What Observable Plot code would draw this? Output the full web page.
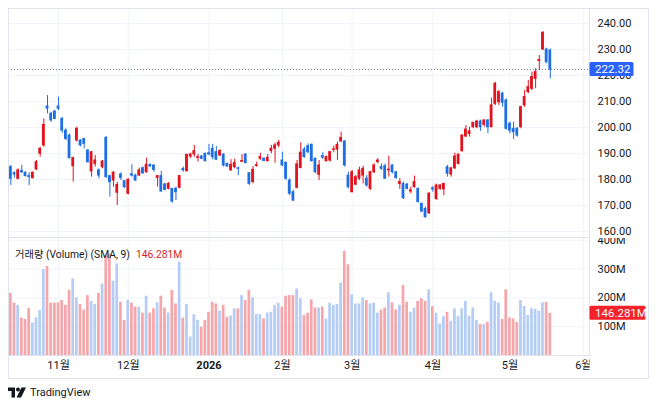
<!DOCTYPE html>
<html>
<head>
<meta charset="utf-8">
<script src="https://cdn.jsdelivr.net/npm/d3@7"></script>
<script src="https://cdn.jsdelivr.net/npm/@observablehq/plot@0.6"></script>
<style>
  html, body { margin: 0; padding: 0; background: #ffffff; }
  #wrap { position: relative; width: 658px; height: 408px; overflow: hidden; background: #fff;
          font-family: Roboto, "Noto Sans CJK KR", sans-serif; color: #131722; }
  #frame { position: absolute; left: 8px; top: 8px; width: 641px; height: 371px;
           border: 1px solid #e0e3eb; box-sizing: border-box; pointer-events: none; }
  #pricePane { position: absolute; left: 0; top: 0; }
  #volPane { position: absolute; left: 0; top: 238px; }
  #volLegend { position: absolute; left: 15px; top: 246px; font-size: 10.3px; white-space: nowrap; }
  #volLegend .val { color: #d8232b; margin-left: 6px; }
  #footer { position: absolute; left: 8px; top: 386px; display: flex; align-items: center; font-size: 11px; color: #131722; }
  #footer svg { margin-right: 4px; }
</style>
</head>
<body>
<div id="wrap">
  <div id="pricePane"></div>
  <div id="volPane"></div>
  <div id="volLegend">거래량 (Volume) (SMA, 9)<span class="val">146.281M</span></div>
  <div id="footer">
    <svg width="18" height="11" viewBox="0 0 36 22"><path d="M0 1h14v20H7V8H0z" fill="#131722"/><circle cx="20" cy="5" r="4" fill="#131722"/><path d="M27 1h9L26 21h-9z" fill="#131722"/></svg>
    <span>TradingView</span>
  </div>
  <div id="frame"></div>
</div>
<script>
// Daily sessions from 2025-10-15 to 2026-05-15 (session index = array position)
const open = [184.75,182.4,180.25,183.3,182.6,181.3,180.5,183.85,189.9,193.1,208.1,205.3,206.15,208.1,203.3,198.8,196.9,185.1,195.0,195.0,195.6,191.15,183.1,186.0,183.5,184.75,196.0,181.3,179.6,174.9,181.9,179.35,174.5,182.0,181.5,181.5,184.3,182.8,185.6,185.4,180.6,181.3,178.1,176.4,176.4,176.4,176.8,184.1,183.2,188.85,189.6,188.3,188.85,189.9,190.1,191.8,190.5,189.2,189.6,186.0,183.5,184.75,184.3,186.8,189.6,182.4,179.0,185.2,188.0,188.0,187.05,190.9,191.8,193.1,187.3,186.4,179.6,175.1,176.8,184.4,191.5,192.8,193.3,188.0,181.8,189.0,187.05,187.3,191.4,191.5,194.6,194.6,181.5,175.1,178.0,180.3,181.5,180.3,176.4,182.8,186.7,184.75,185.1,183.5,185.4,182.8,178.3,178.3,178.0,175.4,177.05,176.4,170.6,168.7,167.0,176.6,172.5,176.4,176.2,184.7,181.9,184.3,186.0,190.9,196.5,197.5,200.1,200.1,202.3,201.0,202.7,200.1,209.1,209.7,213.0,210.4,201.4,199.5,199.5,200.1,208.5,213.6,214.9,218.7,225.6,230.0,230.0,229.6];
const high = [185.4,183.0,184.1,185.4,183.0,182.6,182.9,187.3,192.4,203.3,212.3,205.9,206.5,211.7,203.9,199.5,197.5,188.6,200.2,195.3,195.8,191.5,190.8,189.2,184.1,187.3,196.5,181.5,183.1,178.9,182.6,179.6,180.3,185.7,182.0,184.4,184.8,188.2,186.0,185.5,181.5,183.1,178.5,178.8,176.5,177.05,181.5,184.75,189.6,190.1,193.1,189.6,189.2,190.1,193.5,193.5,192.7,191.5,189.9,186.3,187.6,187.8,184.75,189.6,189.9,182.7,185.0,186.7,190.1,188.2,189.6,193.1,194.0,195.0,190.5,186.7,180.3,175.8,187.3,194.1,192.4,193.7,193.7,188.2,187.3,190.3,189.0,190.8,192.8,194.4,198.2,195.0,182.8,183.5,181.5,184.75,185.1,181.5,183.1,186.0,188.0,186.0,186.0,189.0,185.6,183.0,180.3,179.0,178.5,177.05,181.3,176.7,171.0,169.4,175.0,177.3,178.2,178.0,178.5,185.4,184.75,190.1,189.9,197.2,200.8,200.1,202.0,202.8,202.8,203.0,203.0,211.3,217.4,214.2,213.6,211.0,202.1,202.1,200.0,208.2,214.2,218.1,221.3,222.6,227.7,236.9,230.5,230.2];
const low = [177.7,180.5,179.9,182.2,181.0,177.7,180.2,183.5,188.6,192.4,205.3,202.0,203.0,206.5,197.7,195.0,187.9,179.0,194.4,192.6,191.8,186.3,180.9,184.75,180.25,184.1,180.5,173.2,177.05,170.0,179.6,176.5,174.1,180.9,179.2,181.3,181.9,182.4,184.75,182.8,177.05,175.1,175.6,176.0,170.9,171.9,176.4,182.8,182.8,188.0,188.6,186.7,187.6,186.7,189.2,187.6,187.3,188.9,184.75,184.75,183.2,184.1,181.5,186.7,186.0,177.7,178.3,184.75,187.3,186.9,186.7,189.9,186.3,192.2,185.0,179.6,173.8,171.5,176.4,184.1,188.2,189.9,186.7,182.2,179.6,187.7,186.7,186.7,190.3,187.3,194.4,184.75,176.4,174.9,177.7,179.6,178.3,177.05,175.8,182.2,186.0,183.5,180.0,180.9,182.2,180.2,176.2,172.3,176.0,174.5,176.7,171.0,167.2,165.1,166.5,175.1,172.0,175.8,173.8,180.9,180.9,183.8,185.6,190.5,196.3,196.3,199.5,199.5,198.5,200.1,197.6,199.9,208.4,208.5,207.8,199.0,197.6,195.4,196.3,199.5,207.8,213.0,214.2,214.9,221.9,229.6,224.5,218.7];
const close = [180.25,181.9,183.5,182.8,181.3,180.9,182.6,186.65,191.8,201.0,207.2,202.7,203.3,207.2,198.8,195.6,188.2,188.2,199.5,193.1,193.7,186.65,190.5,187.3,181.5,186.9,180.9,179.0,182.6,177.9,180.6,177.05,179.9,181.5,179.6,183.5,182.4,185.65,185.0,183.7,181.3,175.4,176.0,178.3,171.5,175.1,181.3,183.5,189.5,189.6,190.9,188.6,187.95,187.05,189.6,188.6,187.6,190.9,185.4,185.0,185.65,186.3,184.1,187.1,186.3,178.3,183.7,185.5,188.6,187.1,188.3,191.8,193.1,194.1,185.4,180.3,174.5,171.9,185.8,190.3,188.6,190.5,187.05,182.8,185.4,188.4,188.6,190.5,191.6,193.3,196.0,185.4,177.05,182.8,180.9,183.5,184.1,177.7,182.8,185.4,187.3,184.1,180.3,183.8,182.8,180.5,179.0,172.8,176.4,175.8,179.0,171.3,167.7,165.5,174.5,176.2,177.7,177.7,178.3,182.2,184.3,188.85,189.5,196.9,199.2,198.5,201.8,202.3,200.1,202.7,200.1,208.5,216.8,213.6,209.5,199.5,198.8,198.2,196.9,207.8,211.7,215.5,219.4,221.3,226.0,236.4,225.1,222.32];
// Volume in millions of shares
const volume = [216,182,174,130,125,164,113,131,156,298,309,182,182,182,191,174,226,266,200,177,158,208,188,177,216,248,347,353,258,318,185,122,191,182,168,168,147,206,147,162,183,206,165,147,226,179,324,130,177,64,141,122,98,122,150,185,179,154,174,133,137,162,162,208,191,226,200,142,142,127,147,150,174,182,168,206,208,208,231,197,139,147,193,165,165,168,127,182,174,177,252,362,315,211,179,179,200,191,179,182,147,158,165,218,183,158,174,243,185,150,165,188,197,188,228,170,147,110,135,150,119,162,135,162,188,137,165,122,108,108,115,218,188,182,125,228,130,127,115,191,170,139,162,160,153,183,184,146.281];

// Time axis: session index of first trading day of each month, and its label
const monthTickIndex = [13, 32, 54, 74, 93, 115, 136, 156];
const monthTickLabel = ["11월", "12월", "2026", "2월", "3월", "4월", "5월", "6월"];
const yearTickIndex = [54];
const priceTicks = [160, 170, 180, 190, 200, 210, 220, 230, 240];
const volumeTicks = [100, 200, 300, 400];

const UP = "#e3131d", DOWN = "#1f6fe3";
const VOL_UP = "#b5cdf4", VOL_DOWN = "#f5a6aa";
const GRID = "#f0f3fa", LINE = "#e0e3eb";

const candles = close.map((c, j) => ({j, o: open[j], h: high[j], l: low[j], c, v: volume[j], up: c >= open[j]}));
const lastClose = close[close.length - 1];
const lastVolume = volume[volume.length - 1];
const labelOf = new Map(monthTickIndex.map((d, i) => [d, monthTickLabel[i]]));

const W = 648, ML = 8, MR = 59;
const xDomain = [-0.63, 157.68];
const font = 'Roboto, "Noto Sans CJK KR", sans-serif';

const price = Plot.plot({
  width: W, height: 238,
  marginLeft: ML, marginRight: MR, marginTop: 8, marginBottom: 1,
  x: {type: "linear", domain: xDomain, axis: null},
  y: {domain: [157.69, 245.77], axis: null, label: null},
  style: {fontFamily: font, fontSize: "11px", color: "#131722", background: "transparent", overflow: "visible"},
  marks: [
    Plot.gridX(monthTickIndex, {stroke: GRID, strokeOpacity: 1}),
    Plot.gridY(priceTicks, {stroke: GRID, strokeOpacity: 1}),
    Plot.ruleY([lastClose], {stroke: "#6d7a96", strokeDasharray: "1,2", strokeWidth: 1}),
    Plot.ruleX(candles, {x: "j", y1: "l", y2: "h", stroke: d => d.up ? UP : DOWN, strokeWidth: 1}),
    Plot.rect(candles, {x1: d => d.j - 0.38, x2: d => d.j + 0.38, y1: "o", y2: "c",
      fill: d => d.up ? UP : DOWN, insetTop: -0.5, insetBottom: -0.5}),
    Plot.axisY(priceTicks, {anchor: "right", label: null, tickSize: 0, tickPadding: 8, tickFormat: d => d.toFixed(2), fontSize: 11}),
    Plot.frame({anchor: "right", stroke: LINE, strokeOpacity: 1}),
    Plot.frame({anchor: "bottom", stroke: LINE, strokeOpacity: 1})
  ]
});

const vol = Plot.plot({
  width: W, height: 140,
  marginLeft: ML, marginRight: MR, marginTop: 0, marginBottom: 23,
  x: {type: "linear", domain: xDomain, axis: null, label: null},
  y: {domain: [0, 406.25], axis: null, label: null},
  style: {fontFamily: font, fontSize: "11px", color: "#131722", background: "transparent"},
  marks: [
    Plot.gridX(monthTickIndex, {stroke: GRID, strokeOpacity: 1}),
    Plot.gridY(volumeTicks, {stroke: GRID, strokeOpacity: 1}),
    Plot.rectY(candles, {x1: d => d.j - 0.37, x2: d => d.j + 0.37, y1: 0, y2: "v",
      fill: d => d.up ? VOL_UP : VOL_DOWN}),
    Plot.axisY(volumeTicks, {anchor: "right", label: null, tickSize: 0, tickPadding: 8, tickFormat: d => d + "M", fontSize: 11}),
    Plot.axisX(monthTickIndex.filter(d => !yearTickIndex.includes(d)), {anchor: "bottom", label: null, tickSize: 0, tickPadding: 6,
      tickFormat: d => labelOf.get(d), fontSize: 11}),
    Plot.axisX(yearTickIndex, {anchor: "bottom", label: null, tickSize: 0, tickPadding: 6,
      tickFormat: d => labelOf.get(d), fontSize: 11, fontWeight: "bold"}),
    Plot.frame({anchor: "right", stroke: LINE, strokeOpacity: 1}),
    Plot.frame({anchor: "bottom", stroke: LINE, strokeOpacity: 1})
  ]
});

document.getElementById("pricePane").appendChild(price);
document.getElementById("volPane").appendChild(vol);

// Last-value labels on the right price scales, placed through the plots' own y scales
const axisX0 = W - MR;
function addBadge(svg, yPix, text, fill, w) {
  const g = d3.select(svg).append("g").attr("text-anchor", "start");
  g.append("rect").attr("x", axisX0 + 0.5).attr("y", yPix - 7).attr("width", w).attr("height", 14)
    .attr("rx", 1.5).attr("fill", fill);
  g.append("text").attr("x", axisX0 + 6).attr("y", yPix).attr("dy", "0.36em").attr("text-anchor", "start")
    .attr("fill", "#ffffff").attr("font-size", 11.5).attr("font-family", font).text(text);
}
// cover the part of the time axis that runs under the price scale column
d3.select(vol).append("rect").attr("x", axisX0 + 0.5).attr("y", 117.5).attr("width", MR).attr("height", 22).attr("fill", "#fff");
addBadge(price, price.scale("y").apply(lastClose), lastClose.toFixed(2), "#2962ff", 44);
addBadge(vol, vol.scale("y").apply(lastVolume), lastVolume.toFixed(3) + "M", "#f5212b", 56);
</script>
</body>
</html>
